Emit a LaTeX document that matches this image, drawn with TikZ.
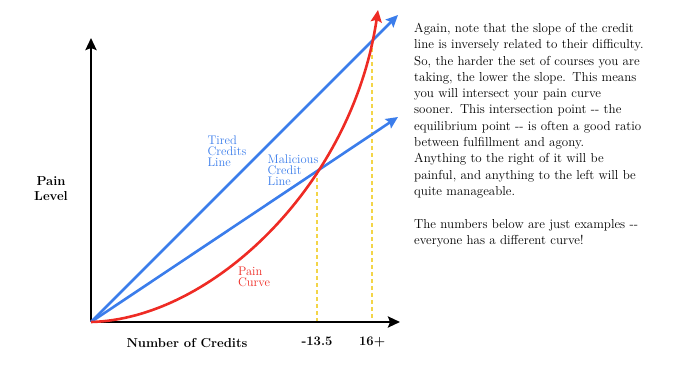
\documentclass[tikz,border=0pt]{standalone}
\usepackage{tikz}
\usetikzlibrary{arrows.meta, positioning, intersections, calc}
\definecolor{credblue}{HTML}{3B7DEB}
\definecolor{painred}{HTML}{EE2B24}
\definecolor{guideyellow}{HTML}{F3D548}

\begin{document}
\begin{tikzpicture}[
  x=1pt, y=-1pt,
  axisline/.style={line width=2.6pt, -{Stealth[length=12pt, width=11pt, inset=2pt]}},
  creditline/.style={credblue, line width=2.6pt, -{Stealth[length=12pt, width=11pt, inset=2pt]}},
  painline/.style={painred, line width=2.6pt, -{Stealth[length=12pt, width=11pt, inset=2pt]}},
  guide/.style={guideyellow, line width=2.6pt, dash pattern=on 4pt off 3pt},
  curvelbl/.style={align=left, inner sep=0pt, font=\fontsize{12.5}{11}\selectfont},
  axislbl/.style={align=center, inner sep=0pt, font=\fontsize{13}{15}\selectfont\bfseries}
]
  \useasboundingbox (0,0) rectangle (700,371);
  % axes and line end points
  \coordinate (O) at (91,322);
  \coordinate (ytip) at (91,38);
  \coordinate (xtip) at (400,322);
  \coordinate (tiredend) at (398,15);
  \coordinate (malend) at (398,117);
  \coordinate (painend) at (378,10);

  % upper parts only, so the common start point is not found
  \path[name path=tired] ($(O)!0.5!(tiredend)$) -- (tiredend);
  \path[name path=malicious] ($(O)!0.5!(malend)$) -- (malend);
  \path[name path=pain] (O) .. controls (211,319) and (352,186) .. (painend);
  \path[name intersections={of=malicious and pain, by={eq}}];
  \path[name intersections={of=tired and pain, by={top}}];
  \coordinate (eqfoot) at (eq |- O);
  \coordinate (topfoot) at (top |- O);

  % guides
  \draw[guide] (eq) -- (eqfoot);
  \draw[guide] (top) -- (topfoot);

  \draw[axisline] (O) -- (ytip);
  \draw[axisline] (O) -- (xtip);
  \draw[creditline] (O) -- (tiredend);
  \draw[creditline] (O) -- (malend);
  \draw[painline] (O) .. controls (211,319) and (352,186) .. (painend);

  % labels
  \node[curvelbl, text=credblue] (tiredlbl) at (227,151) {Tired\\Credits\\Line};
  \node[curvelbl, text=credblue] (mallbl) at (293,170) {Malicious\\Credit\\Line};
  \node[curvelbl, text=painred] (painlbl) at (254,277) {Pain\\Curve};
  \node[axislbl] (ylbl) at (51,189) {Pain\\Level};
  \node[axislbl] (xlbl) at (187,343) {Number of Credits};
  \node[axislbl, below=15pt of eqfoot] (eqlbl) {-13.5};
  \node[axislbl, below=15pt of topfoot] (toplbl) {16+};

  \node[anchor=north west, inner sep=0pt, align=left, text width=270pt,
        font=\fontsize{13}{16.3}\selectfont] (note) at (414,23)
    {Again, note that the slope of the credit\\
     line is inversely related to their difficulty.\\
     So, the harder the set of courses you are\\
     taking, the lower the slope. This means\\
     you will intersect your pain curve\\
     sooner. This intersection point -{}- the\\
     equilibrium point -{}- is often a good ratio\\
     between fulfillment and agony.\\
     Anything to the right of it will be\\
     painful, and anything to the left will be\\
     quite manageable.\\[16.3pt]
     The numbers below are just examples -{}-\\
     everyone has a different curve!};
\end{tikzpicture}
\end{document}
